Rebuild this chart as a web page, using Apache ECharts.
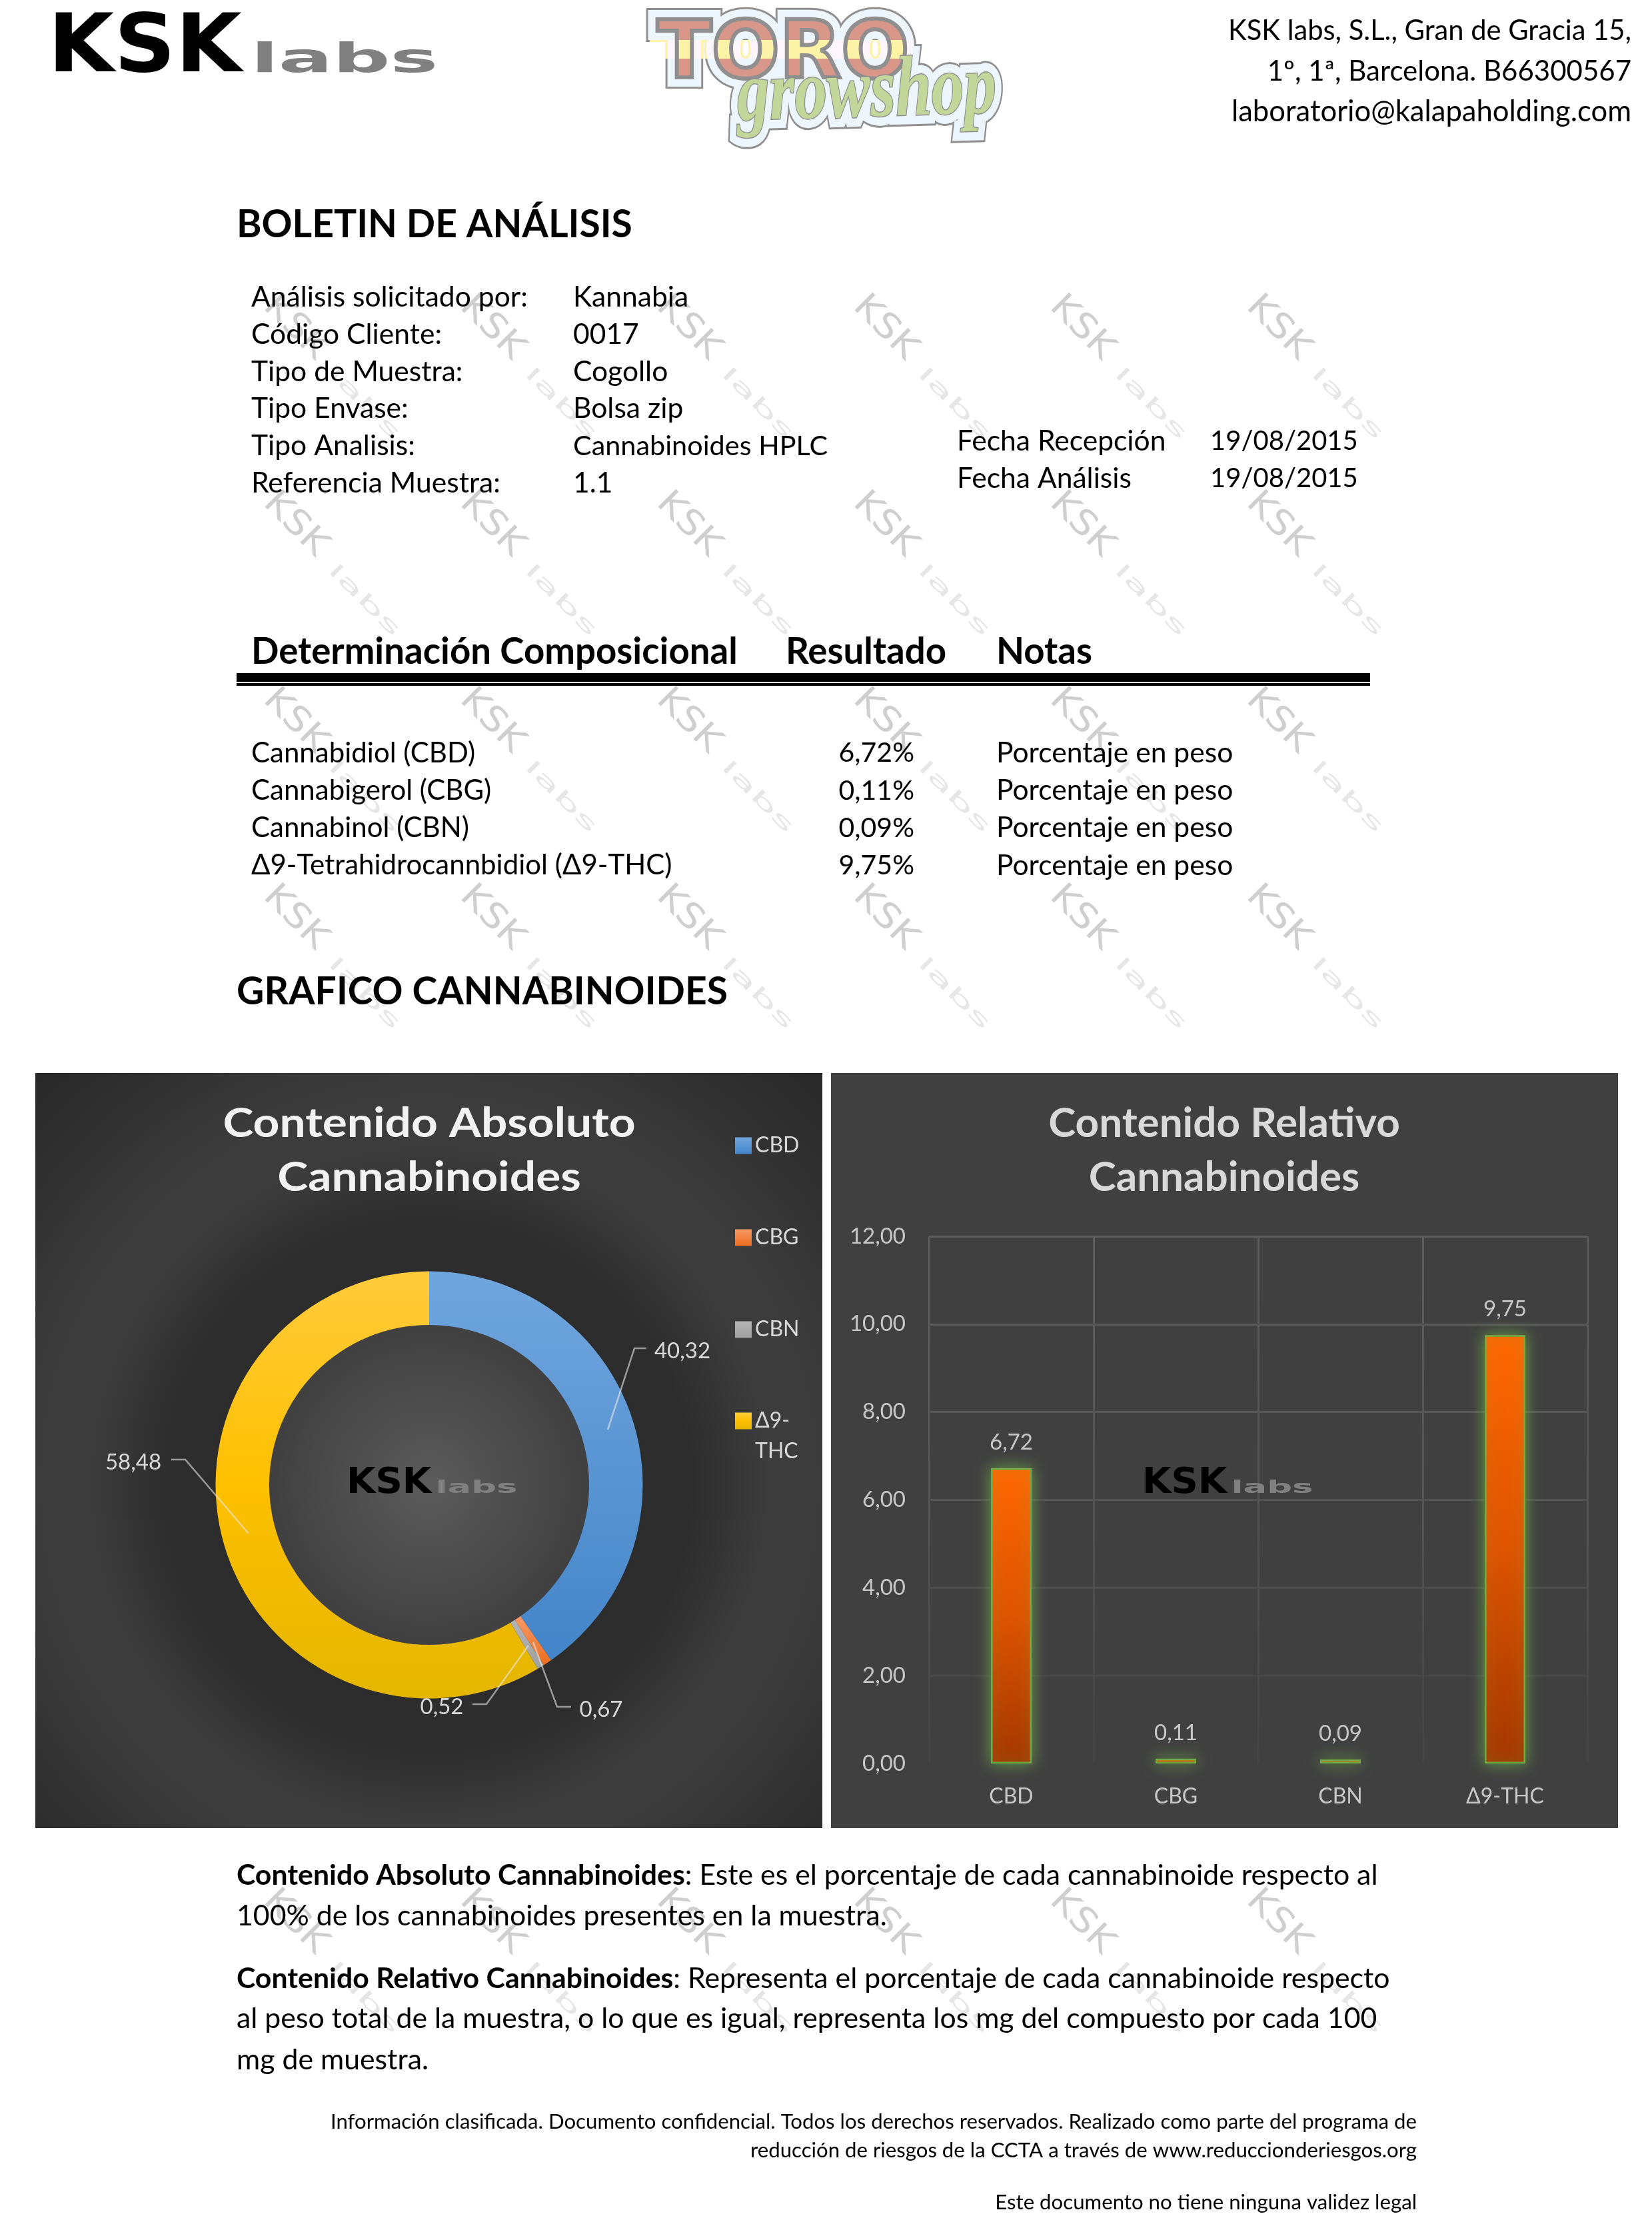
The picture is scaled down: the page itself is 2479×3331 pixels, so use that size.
<!DOCTYPE html>
<html><head><meta charset="utf-8">
<style>html,body{margin:0;padding:0;background:#fff}#c{width:2479px;height:3331px}</style>
<script src="https://cdn.jsdelivr.net/npm/echarts@6/dist/echarts.min.js"></script>
</head><body><div id="c"></div>
<script>
// ---------- data ----------
const categories = ['CBD', 'CBG', 'CBN', 'Δ9-THC'];
const absoluteValues = [40.32, 0.67, 0.52, 58.48];
const relativeValues = [6.72, 0.11, 0.09, 9.75];
const yTickMax = 12;
const yTickStep = 2;
const absoluteTitle = 'Contenido Absoluto\nCannabinoides';
const relativeTitle = 'Contenido Relativo\nCannabinoides';
const addressLines = ['KSK labs, S.L., Gran de Gracia 15,', '1º, 1ª, Barcelona. B66300567', 'laboratorio@kalapaholding.com'];
const reportTitle = 'BOLETIN DE ANÁLISIS';
const infoLabels = ['Análisis solicitado por:', 'Código Cliente:', 'Tipo de Muestra:', 'Tipo Envase:', 'Tipo Analisis:', 'Referencia Muestra:'];
const infoValues = ['Kannabia', '0017', 'Cogollo', 'Bolsa zip', 'Cannabinoides HPLC', '1.1'];
const dateLabels = ['Fecha Recepción', 'Fecha Análisis'];
const dateValues = ['19/08/2015', '19/08/2015'];
const tableHeads = ['Determinación Composicional', 'Resultado', 'Notas'];
const compoundNames = ['Cannabidiol (CBD)', 'Cannabigerol (CBG)', 'Cannabinol (CBN)', 'Δ9-Tetrahidrocannbidiol (Δ9-THC)'];
const compoundResults = ['6,72%', '0,11%', '0,09%', '9,75%'];
const compoundNote = 'Porcentaje en peso';
const chartHeading = 'GRAFICO CANNABINOIDES';
const explainLines = [
  '{b|Contenido Absoluto Cannabinoides}: Este es el porcentaje de cada cannabinoide respecto al',
  '100% de los cannabinoides presentes en la muestra.',
  '{b|Contenido Relativo Cannabinoides}: Representa el porcentaje de cada cannabinoide respecto',
  'al peso total de la muestra, o lo que es igual, representa los mg del compuesto por cada 100',
  'mg de muestra.'
];
const footerLines = [
  'Información clasificada. Documento confidencial. Todos los derechos reservados. Realizado como parte del programa de',
  'reducción de riesgos de la CCTA a través de www.reduccionderiesgos.org',
  'Este documento no tiene ninguna validez legal'
];

// ---------- layout ----------
const FONT = 'Lato';
const BODY = 42.6;
const PARA = 42.8;
const comma = v => v.toFixed(2).replace('.', ',');
const els = [];
function txt(text, x, y, size, o = {}) {
  els.push({
    type: 'text', x, y, z: o.z ?? 3, rotation: o.rotation || 0, scaleX: o.scaleX || 1, scaleY: o.scaleY || 1,
    style: {
      text, fill: o.fill || '#000', align: o.align || 'left', verticalAlign: 'middle',
      font: `${o.style || ''} ${o.weight || 'normal'} ${size}px "${o.family || FONT}"`,
      rich: o.rich, stroke: o.stroke, lineWidth: o.lineWidth, lineJoin: 'round',
      shadowBlur: o.shadowBlur, shadowColor: o.shadowColor, shadowOffsetY: o.shadowOffsetY
    }
  });
}
function logo(x, y, h, kFill, lFill, z) {
  // x,y: left / vertical middle of the KSK capitals, h: capital height
  const fs = h / 0.73;
  els.push({ type: 'group', x, y, z, children: [
    { type: 'text', z, scaleX: 1.05, style: { text: 'KSK', x: 0, y: h * 0.12, verticalAlign: 'middle', fill: kFill, font: `bold ${fs}px "DejaVu Sans"` } },
    { type: 'text', z, scaleX: 1.98, style: { text: 'labs', x: h * 3.42 / 1.98, y: h * 0.31, verticalAlign: 'middle', fill: lFill, font: `bold ${fs * 0.5}px "DejaVu Sans"` } }
  ]});
}
function watermark(x, y) {
  const z = 0, fs = 52;
  els.push({ type: 'group', x, y, rotation: -Math.PI / 4, z, children: [
    { type: 'text', z, scaleX: 1.12, style: { text: 'KSK', x: 0, y: 0, verticalAlign: 'middle', fill: '#cfcfcf', font: `${fs}px "DejaVu Sans"` } },
    { type: 'text', z, scaleX: 2.4, style: { text: 'labs', x: 140 / 2.4, y: 8, verticalAlign: 'middle', fill: '#e6e6e6', font: `${fs * 0.55}px "DejaVu Sans"` } }
  ]});
}

// watermarks
[452, 747, 1042, 1337, 2844].forEach(y => {
  [403, 698, 993, 1288, 1583, 1878].forEach(x => watermark(x, y));
});

// header
logo(72, 65, 89, '#000', '#808080', 3);
const toroStyle = { align: 'left', family: 'DejaVu Sans', weight: 'bold' };
const growStyle = { align: 'left', family: 'Liberation Serif', weight: 'bold', style: 'italic', scaleX: .76, rotation: .03 };
const TY = 85, GY = 147;
[[34, '#8f8f8f', 1], [28, '#eef6fd', 2]].forEach(([w, c, z]) => {
  txt('TORO', 986, TY, 120, { ...toroStyle, fill: c, stroke: c, lineWidth: w, z });
  txt('growshop', 1106, GY, 128, { ...growStyle, fill: c, stroke: c, lineWidth: w, z });
});
txt('TORO', 986, TY, 120, { ...toroStyle, fill: '#d9978a' });
els.push({ type: 'rect', z: 3, shape: { x: 975, y: 60, width: 395, height: 28 }, style: { fill: '#fdf3a6', blend: 'lighten' } });
txt('TORO', 986, TY, 120, { ...toroStyle, fill: 'none', stroke: '#8f8f8f', lineWidth: 6 });
txt('growshop', 1106, GY, 128, { ...growStyle, fill: '#c3d79b', stroke: '#8f8f8f', lineWidth: 3 });
[41.7, 42, 43.6].forEach((size, i) => txt(addressLines[i], 2448, 47 + i * 60.5, size, { align: 'right' }));

// report
txt(reportTitle, 355, 338, 57, { weight: 'bold' });
infoLabels.forEach((t, i) => txt(t, 377, 446 + i * 55.9, BODY));
infoValues.forEach((t, i) => txt(t, 860, 446 + i * 55.9, i === 4 ? 41.4 : BODY));
dateLabels.forEach((t, i) => txt(t, 1436, 662 + i * 56, BODY));
dateValues.forEach((t, i) => txt(t, 1816, 662 + i * 56, 40));
[377, 1179, 1495].forEach((x, i) => txt(tableHeads[i], x, 978, 54.6, { weight: 'bold' }));
els.push({ type: 'rect', z: 3, shape: { x: 355, y: 1010, width: 1701, height: 13 }, style: { fill: '#000' } });
els.push({ type: 'rect', z: 3, shape: { x: 355, y: 1025, width: 1701, height: 4 }, style: { fill: '#000' } });
compoundNames.forEach((t, i) => {
  const y = 1130 + i * 56.3;
  txt(t, 377, y, 42);
  txt(compoundResults[i], 1372, y, 41, { align: 'right' });
  txt(compoundNote, 1495, y, BODY);
});
txt(chartHeading, 355, 1489, 57, { weight: 'bold' });
const pY = [2814, 2875, 2969, 3029, 3091];
explainLines.forEach((t, i) => txt(t, 355, pY[i], PARA, { rich: { b: { font: `bold ${PARA}px "${FONT}"`, fill: '#000' } } }));
[3184, 3227, 3305].forEach((y, i) => txt(footerLines[i], 2126, y, 31.2, { align: 'right' }));

// chart panels
els.push({ type: 'rect', z: 1, shape: { x: 53, y: 1610, width: 1181, height: 1133 }, style: { fill: {
  type: 'radial', x: 644, y: 2228, r: 850, global: true, colorStops: [
    { offset: 0, color: '#2a2a2a' }, { offset: .46, color: '#2d2d2d' }, { offset: .6, color: '#3c3c3c' },
    { offset: .68, color: '#3c3c3c' }, { offset: 1, color: '#282828' }] } } });
els.push({ type: 'circle', z: 1, shape: { cx: 644, cy: 2228, r: 241 }, style: { fill: {
  type: 'radial', x: .5, y: .5, r: .5, colorStops: [{ offset: 0, color: '#5b5b5b' }, { offset: 1, color: '#404040' }] } } });
els.push({ type: 'rect', z: 1, shape: { x: 1247, y: 1610, width: 1181, height: 1133 }, style: { fill: '#404040' } });

// chart titles
absoluteTitle.split('\n').forEach((t, i) => txt(t, 644, 1686 + i * 81, 62, {
  align: 'center', weight: 'bold', fill: '#f2f2f2', scaleX: 1.12, shadowBlur: 5, shadowColor: '#000', z: 5 }));
relativeTitle.split('\n').forEach((t, i) => txt(t, 1837, 1686 + i * 81, 62, {
  align: 'center', weight: 'bold', fill: '#d9d9d9', z: 5 }));
logo(520, 2221, 39, '#000', '#808080', 8);
logo(1714, 2221, 39, '#000', '#808080', 8);

// pie label placement: text centre, and leader polyline drawn over the ring
const pieLabels = [
  { x: 1024, y: 2027, line: [[970, 2023], [952, 2023], [912, 2145]] },
  { x: 902, y: 2565, line: [[857, 2561], [836, 2561], [800, 2464]] },
  { x: 663, y: 2561, line: [[709, 2557], [730, 2557], [793, 2469]] },
  { x: 200, y: 2194, line: [[257, 2190], [278, 2190], [373, 2301]] }
];
pieLabels.forEach(l => els.push({ type: 'polyline', z: 7, shape: { points: l.line },
  style: { fill: 'none', stroke: 'rgba(230,230,230,0.6)', lineWidth: 2.5 } }));
const sliceColors = [
  ['#70a6de', '#4385c9'], ['#f79a64', '#ed6d1f'], ['#b4b4b4', '#a0a0a0'], ['#ffcb3c', '#ffc000', '#e4b600']
];
const vGrad = cs => ({ type: 'linear', x: 0, y: 0, x2: 0, y2: 1,
  colorStops: cs.map((color, i) => ({ offset: i / (cs.length - 1), color })) });

const legendBase = {
  left: 1098, orient: 'vertical', itemWidth: 25, itemHeight: 25, itemGap: 92, icon: 'rect', z: 6,
  textStyle: { color: '#d9d9d9', fontSize: 32, fontFamily: FONT, lineHeight: 46 }
};
const chart = echarts.init(document.getElementById('c'), null, { width: 2479, height: 3331, renderer: 'canvas' });
chart.setOption({
  animation: false,
  backgroundColor: '#ffffff',
  textStyle: { fontFamily: FONT },
  graphic: { elements: els },
  legend: [
    { ...legendBase, top: 1691, data: categories.slice(0, 3) },
    { ...legendBase, top: 2058, data: categories.slice(3), formatter: n => n.replace('Δ9-', ' \nΔ9-\n') }
  ],
  grid: { left: 1394, top: 1855, width: 988, height: 791, containLabel: false, z: 3 },
  xAxis: {
    type: 'category', data: categories, z: 3,
    axisLine: { show: false }, axisTick: { show: false },
    axisLabel: { color: '#c8c8c8', fontSize: 32, margin: 34, fontFamily: FONT },
    splitLine: { show: true, z: 3, lineStyle: { width: 3, color: { type: 'linear', x: 0, y: 1855, x2: 0, y2: 2646, global: true,
      colorStops: [{ offset: 0, color: '#5c5c5c' }, { offset: .5, color: '#545454' }, { offset: 1, color: '#444444' }] } } }
  },
  yAxis: {
    type: 'value', min: 0, max: yTickMax, interval: yTickStep, z: 3,
    axisLine: { show: false }, axisTick: { show: false },
    axisLabel: { color: '#c8c8c8', fontSize: 33, margin: 35, fontFamily: FONT, formatter: v => comma(v) },
    splitLine: { z: 3, lineStyle: { width: 3, color: ['#404040', '#474747', '#4d4d4d', '#525252', '#585858', '#5c5c5c', '#5c5c5c'] } }
  },
  series: [
    {
      type: 'pie', name: 'Contenido Absoluto', center: [644, 2228], radius: [240, 320.5], startAngle: 90, clockwise: true,
      avoidLabelOverlap: false, z: 4,
      label: { show: true, position: 'outside', color: '#d9d9d9', fontSize: 33, fontFamily: FONT, formatter: p => comma(p.value) },
      labelLine: { show: false },
      labelLayout: p => {
        const l = pieLabels[p.dataIndex];
        return { x: l.x, y: l.y, align: 'center', verticalAlign: 'middle' };
      },
      emphasis: { disabled: true },
      data: categories.map((name, i) => ({ name, value: absoluteValues[i], itemStyle: { color: vGrad(sliceColors[i]) } }))
    },
    {
      type: 'bar', name: 'Contenido Relativo', data: relativeValues, barWidth: 61, z: 4,
      itemStyle: {
        color: vGrad(['#ff6600', '#de5300', '#a33600']), borderColor: '#70ad47', borderWidth: 2.5,
        shadowColor: 'rgba(112,173,71,0.85)', shadowBlur: 22
      },
      label: { show: true, position: 'top', distance: 22, color: '#c8c8c8', fontSize: 33, fontFamily: FONT, formatter: p => comma(p.value) },
      emphasis: { disabled: true }
    }
  ]
});
</script></body></html>
